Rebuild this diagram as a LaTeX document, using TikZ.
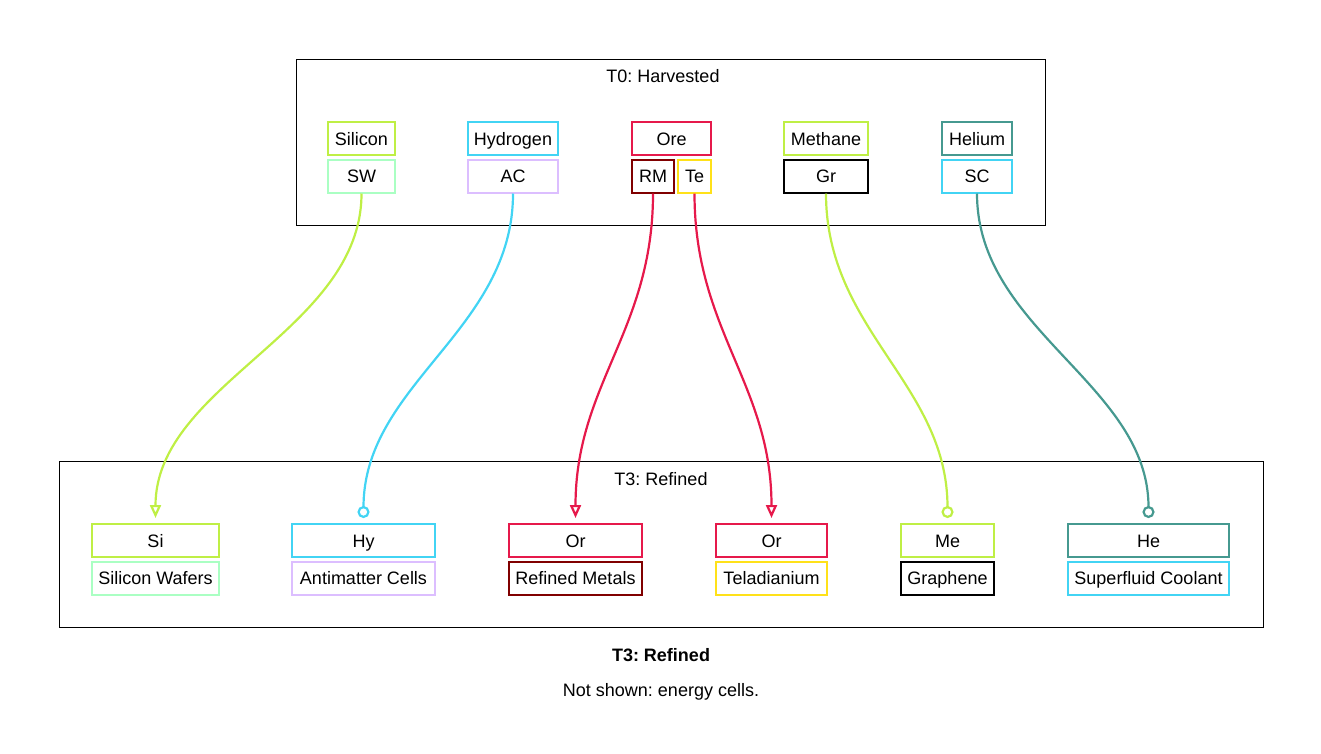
\documentclass[tikz,border=0pt]{standalone}
\usepackage{fontspec}
\setmainfont{Liberation Sans}
\usetikzlibrary{arrows.meta}
\frenchspacing

\definecolor{cLime}{HTML}{BFEF45}
\definecolor{cCyan}{HTML}{42D4F4}
\definecolor{cMint}{HTML}{AAFFC3}
\definecolor{cLavender}{HTML}{DCBEFF}
\definecolor{cRed}{HTML}{E6194B}
\definecolor{cMaroon}{HTML}{800000}
\definecolor{cYellow}{HTML}{FFE119}
\definecolor{cTeal}{HTML}{469990}

\tikzset{
    cluster/.style = {
        draw,
        black,
        line width=1pt
    },
    item/.style = {
        draw=#1,
        line width=2pt,
        inner sep=0pt,
        minimum height=33pt,
        text height=14pt,
        text depth=1pt,
        font=\fontsize{18}{20}\selectfont
    },
    caption/.style = {
        font=\fontsize{18}{20}\selectfont
    },
    flow/.style = {
        line width=2.2pt,
        shorten >=5pt
    },
    tri/.style = {
        -{Triangle[open, length=13pt, width=11pt]}
    },
    dot/.style = {
        -{Circle[open, length=12pt, width=12pt]}
    }
}

\begin{document}
\begin{tikzpicture}[x=1pt,y=-1pt]
    \useasboundingbox (0,0) rectangle (1321,753);

    % Draw clusters
    \draw[cluster] (296,59) rectangle (1045,225);
    \draw[cluster] (59,461) rectangle (1263,627);
    \node[caption] (t0) at (663,76) {T0: Harvested};
    \node[caption] (t3) at (661,479) {T3: Refined};

    % Draw harvested items
    \node[item=cLime, minimum width=67pt]     (silicon)  at (361.5,138.5) {Silicon};
    \node[item=cMint, minimum width=67pt]     (sw)       at (361.5,176)   {SW};
    \node[item=cCyan, minimum width=90pt]     (hydrogen) at (513,138.5)   {Hydrogen};
    \node[item=cLavender, minimum width=90pt] (ac)       at (513,176)     {AC};
    \node[item=cRed, minimum width=79pt]      (ore)      at (671.5,138.5) {Ore};
    \node[item=cMaroon, minimum width=42pt]   (rm)       at (653,176)     {RM};
    \node[item=cYellow, minimum width=33pt]   (te)       at (694.5,176)   {Te};
    \node[item=cLime, minimum width=84pt]     (methane)  at (826,138.5)   {Methane};
    \node[item=black, minimum width=84pt]     (gr)       at (826,176)     {Gr};
    \node[item=cTeal, minimum width=70pt]     (helium)   at (977,138.5)   {Helium};
    \node[item=cCyan, minimum width=70pt]     (sc)       at (977,176)     {SC};

    % Draw refined items
    \node[item=cLime, minimum width=127pt]     (si)   at (155.5,540.5) {Si};
    \node[item=cMint, minimum width=127pt]     (siw)  at (155.5,578)   {Silicon Wafers};
    \node[item=cCyan, minimum width=143pt]     (hy)   at (363.5,540.5) {Hy};
    \node[item=cLavender, minimum width=143pt] (amc)  at (363.5,578)   {Antimatter Cells};
    \node[item=cRed, minimum width=133pt]      (orA)  at (575.5,540.5) {Or};
    \node[item=cMaroon, minimum width=133pt]   (rmet) at (575.5,578)   {Refined Metals};
    \node[item=cRed, minimum width=111pt]      (orB)  at (771.5,540.5) {Or};
    \node[item=cYellow, minimum width=111pt]   (tel)  at (771.5,578)   {Teladianium};
    \node[item=cLime, minimum width=93pt]      (me)   at (947.5,540.5) {Me};
    \node[item=black, minimum width=93pt]      (gra)  at (947.5,578)   {Graphene};
    \node[item=cTeal, minimum width=161pt]     (he)   at (1148.5,540.5) {He};
    \node[item=cCyan, minimum width=161pt]     (sfc)  at (1148.5,578)   {Superfluid Coolant};

    % Draw flows
    \draw[flow, cLime, tri] (sw.south) .. controls +(0,137) and +(0,-139) .. (si.north);
    \draw[flow, cCyan, dot] (ac.south) .. controls +(0,137) and +(0,-139) .. (hy.north);
    \draw[flow, cRed, tri]  (rm.south) .. controls +(0,137) and +(0,-139) .. (orA.north);
    \draw[flow, cRed, tri]  (te.south) .. controls +(0,137) and +(0,-139) .. (orB.north);
    \draw[flow, cLime, dot] (gr.south) .. controls +(0,137) and +(0,-139) .. (me.north);
    \draw[flow, cTeal, dot] (sc.south) .. controls +(0,137) and +(0,-139) .. (he.north);

    % Draw caption
    \node[caption, font=\fontsize{18}{20}\selectfont\bfseries] (capt) at (661,655) {T3: Refined};
    \node[caption] (note) at (661,692) {Not shown: energy cells.};
\end{tikzpicture}
\end{document}
